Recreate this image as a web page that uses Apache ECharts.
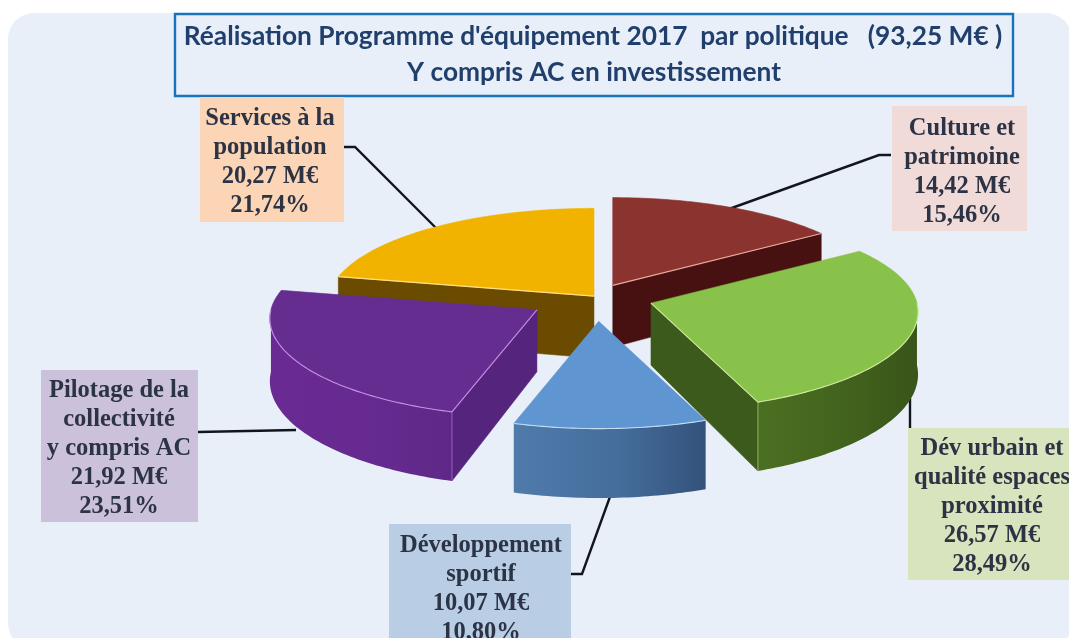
<!DOCTYPE html>
<html><head><meta charset="utf-8">
<style>html,body{margin:0;padding:0;background:#fff}#c{width:1069px;height:638px}</style>
<script src="https://cdn.jsdelivr.net/npm/echarts@6/dist/echarts.min.js"></script>
</head><body><div id="c"></div>
<script>
// ---- data ----
const titleLines = ["Réalisation Programme d'équipement 2017  par politique   (93,25 M€ )", "Y compris AC en investissement"];
const categories = [
  ["Culture et", "patrimoine"],
  ["Dév urbain et", "qualité espaces", "proximité"],
  ["Développement", "sportif"],
  ["Pilotage de la", "collectivité", "y compris AC"],
  ["Services à la", "population"]
];
const amounts = ["14,42", "26,57", "10,07", "21,92", "20,27"];
const shares = [15.46, 28.49, 10.80, 23.51, 21.74];

// ---- layout / style ----
const C = {x: 596, y: 297, rx: 266, ry: 97.5, px: 0.09, py: 0.1, depth: 62, dk: 0.12};
const explode = [0.135, 0.216, 0.25, 0.258, 0.012];
const drawOrder = [1, 3, 4, 2, 0];
const looks = [
  {top:'#8b332e', edge:'#e8aaa0', cut:'#471111', wall:['#471111','#471111','#471111']},
  {top:'#89c24a', edge:'#cdea9e', cut:'#3d5a1d', wall:['#4b6f22','#42631d','#39551a']},
  {top:'#5f95d1', edge:'#c4dcf2', cut:'#3f648f', wall:['#4f7bab','#456d9b','#33527b']},
  {top:'#662d91', edge:'#c88fe6', cut:'#55247d', wall:['#6a2a94','#662a90','#5f2888']},
  {top:'#f2b300', edge:'#ffe08a', cut:'#6b4b00', wall:['#6b4b00','#6b4b00','#6b4b00']}
];
const boxes = [
  {x:892, y:106, w:135, h:125, cx:962, fy:129, fill:'#f1dbd9', leader:[[891,155],[879,155],[729,209]]},
  {x:908, y:428, w:170, h:152, cx:992, fy:449, fill:'#d7e4bd', leader:[[910,428],[910,398]]},
  {x:389, y:524, w:182, h:130, cx:481, fy:546, fill:'#b9cde5', leader:[[571,574],[582,574],[611,494]]},
  {x:41, y:370, w:157, h:152, cx:119, fy:391, fill:'#ccc1da', leader:[[198,432],[296,430]]},
  {x:200, y:97, w:144, h:125, cx:270, fy:119, fill:'#fbd5b5', leader:[[344,147],[355,147],[436,228]]}
];
const LINE = 29;
const LABEL_FONT = 'bold 24.5px "Liberation Serif"';
const TEXT_INK = '#2b3345';

const total = shares.reduce((a, b) => a + b, 0);
const rad = d => d * Math.PI / 180;
function project(ax, ay, th, r) {
  const u = Math.sin(th) * r, v = -Math.cos(th) * r;
  return [ax + C.rx * u * (1 + C.px * v), ay + C.ry * v * (1 + C.py * v), v];
}
const drop = (p) => [p[0], p[1] + C.depth * (1 + C.dk * p[2])];
function arcPts(ax, ay, a0, a1) {
  const n = Math.max(2, Math.ceil((a1 - a0) / rad(1))), pts = [];
  for (let i = 0; i <= n; i++) pts.push(project(ax, ay, a0 + (a1 - a0) * i / n, 1));
  return pts;
}
const xy = p => [p[0], p[1]];

function renderItem(params, api) {
  const i = params.dataIndex, look = looks[i], box = boxes[i];
  let before = 0;
  for (let k = 0; k < i; k++) before += shares[k];
  const a0 = rad(before / total * 360), a1 = rad((before + api.value(0)) / total * 360);
  const mid = (a0 + a1) / 2, e = explode[i];
  const ax = C.x + C.rx * Math.sin(mid) * e, ay = C.y - C.ry * Math.cos(mid) * e;
  const z = 10 + drawOrder[i] * 10;
  const children = [], highlights = [];
  // radial cut faces that look toward the viewer
  [[a0, Math.sin(a0) < -1e-6], [a1, Math.sin(a1) > 1e-6]].forEach(([a, vis]) => {
    if (!vis) return;
    const o = [ax, ay, 0], r = project(ax, ay, a, 1);
    children.push({type:'polygon', z2:z, shape:{points:[xy(o), xy(r), xy(drop(r)), xy(drop(o))]},
      style:{fill:look.cut, stroke:look.cut, lineWidth:0.5}});
    highlights.push([xy(o), xy(r)]);
    if (Math.cos(a) < 0) children.push({type:'line', z2:z+3, shape:{x1:r[0], y1:r[1], x2:drop(r)[0], y2:drop(r)[1]},
      style:{stroke:look.edge, lineWidth:1, opacity:.55}});
  });
  // curved outer wall
  const w0 = Math.max(a0, rad(90)), w1 = Math.min(a1, rad(270));
  if (w1 > w0) {
    const up = arcPts(ax, ay, w0, w1), low = up.map(drop).reverse();
    children.push({type:'polygon', z2:z+1, shape:{points:up.map(xy).concat(low)}, style:{
      fill:new echarts.graphic.LinearGradient(0, 0, 1, 0, [
        {offset:0, color:look.wall[0]}, {offset:.55, color:look.wall[1]}, {offset:1, color:look.wall[2]}])}});
    highlights.push(up.map(xy));
  }
  // top face, pale rim only on its viewer-facing edges
  const rim = arcPts(ax, ay, a0, a1).map(xy);
  children.push({type:'polygon', z2:z+2, shape:{points:[[ax, ay]].concat(rim)},
    style:{fill:look.top, stroke:look.top, lineWidth:0.6}});
  highlights.forEach(pts => children.push({type:'polyline', z2:z+4, shape:{points:pts},
    style:{fill:null, stroke:look.edge, lineWidth:1.1}}));
  // leader and label box
  children.push({type:'polyline', z2:5, shape:{points:box.leader}, style:{fill:null, stroke:'#10151f', lineWidth:2.4}});
  children.push({type:'rect', z2:2, shape:{x:box.x, y:box.y, width:box.w, height:box.h}, style:{fill:box.fill}});
  const lines = categories[i].concat([amounts[i] + ' M€', api.value(0).toFixed(2).replace('.', ',') + '%']);
  lines.forEach((t, k) => children.push({type:'text', z2:6, style:{
    text:t, x:box.cx, y:box.fy + k * LINE, align:'center', verticalAlign:'middle',
    font:LABEL_FONT, fill:TEXT_INK, shadowColor:'rgba(43,51,69,.55)', shadowBlur:1.2}}));
  return {type:'group', children};
}

const chart = echarts.init(document.getElementById('c'), null, {renderer:'canvas'});
chart.setOption({
  animation:false,
  backgroundColor:'#ffffff',
  graphic:[
    {type:'rect', z:-2, shape:{x:8, y:13, width:1064, height:636, r:26}, style:{fill:'#e9eff8'}},
    {type:'rect', z:-1, shape:{x:175, y:14, width:838, height:82}, style:{fill:'#e9eff8', stroke:'#1873bd', lineWidth:2.4}},
    {type:'text', z:1, style:{text:titleLines[0], x:593, y:37, align:'center', verticalAlign:'middle',
      font:'bold 26.3px Lato', fill:'#203f6c'}},
    {type:'text', z:1, style:{text:titleLines[1], x:594, y:73, align:'center', verticalAlign:'middle',
      font:'bold 26.3px Lato', fill:'#203f6c'}}
  ],
  series:[{
    type:'custom', coordinateSystem:'none', silent:true, clip:false,
    data:shares.map(v => [v]), encode:{value:0}, renderItem
  }]
});
</script></body></html>
